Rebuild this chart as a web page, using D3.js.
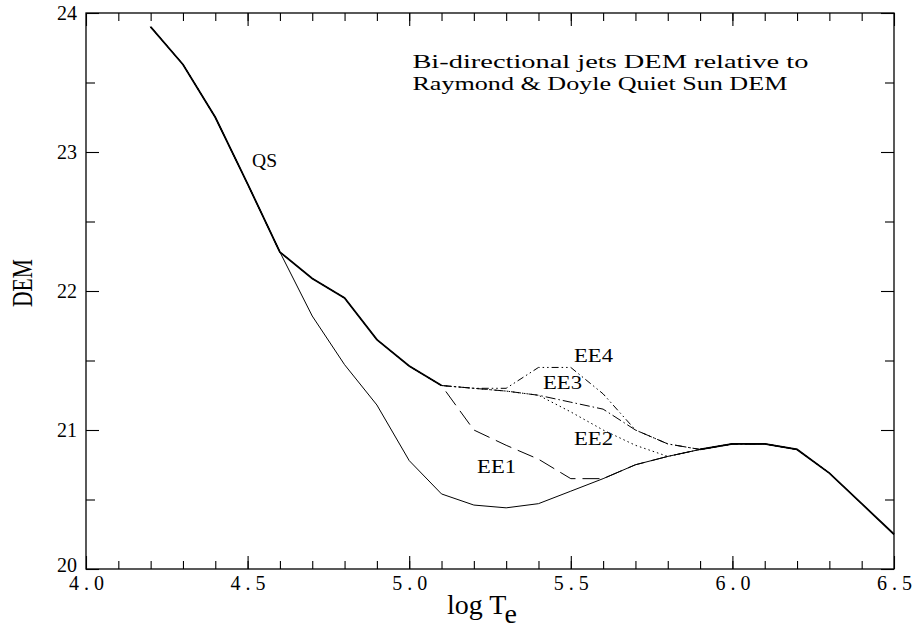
<!DOCTYPE html>
<html>
<head>
<meta charset="utf-8">
<script src="https://cdn.jsdelivr.net/npm/d3@7"></script>
<style>
body { margin: 0; background: #fff; }
svg { display: block; }
text { font-family: "Liberation Serif", "Times New Roman", serif; fill: #000; }
</style>
</head>
<body>
<div id="chart"></div>
<script>
// log T grid
var logT = [4.2, 4.3, 4.4, 4.5, 4.6, 4.7, 4.8, 4.9, 5.0, 5.1, 5.2, 5.3,
	5.4, 5.5, 5.6, 5.7, 5.8, 5.9, 6.0, 6.1, 6.2, 6.3, 6.4, 6.5];

// Raymond & Doyle quiet sun DEM
var qs = [23.9, 23.63, 23.25, 22.77, 22.28, 21.82, 21.47, 21.18, 20.78, 20.54, 20.46, 20.44,
	20.47, 20.56, 20.65, 20.75, 20.81, 20.86, 20.9, 20.9, 20.86, 20.69, 20.47, 20.25];

// jet DEMs
var ee1 = [23.9, 23.63, 23.25, 22.77, 22.28, 22.09, 21.95, 21.65, 21.46, 21.32, 21.0, 20.89,
	20.79, 20.65, 20.65, 20.75, 20.81, 20.86, 20.9, 20.9, 20.86, 20.69, 20.47, 20.25];
var ee2 = [23.9, 23.63, 23.25, 22.77, 22.28, 22.09, 21.95, 21.65, 21.46, 21.32, 21.3, 21.28,
	21.25, 21.13, 21.0, 20.89, 20.81, 20.86, 20.9, 20.9, 20.86, 20.69, 20.47, 20.25];
var ee3 = [23.9, 23.63, 23.25, 22.77, 22.28, 22.09, 21.95, 21.65, 21.46, 21.32, 21.3, 21.28,
	21.25, 21.2, 21.15, 21.0, 20.9, 20.86, 20.9, 20.9, 20.86, 20.69, 20.47, 20.25];
var ee4 = [23.9, 23.63, 23.25, 22.77, 22.28, 22.09, 21.95, 21.65, 21.46, 21.32, 21.3, 21.3,
	21.45, 21.45, 21.26, 21.0, 20.9, 20.86, 20.9, 20.9, 20.86, 20.69, 20.47, 20.25];

var xTicks = [4.0, 4.5, 5.0, 5.5, 6.0, 6.5];
var yTicks = [20, 21, 22, 23, 24];

var width = 914, height = 642;
var margin = { top: 13, right: 20, bottom: 73, left: 86 };

var svg = d3.select('#chart').append('svg')
	.attr('width', width)
	.attr('height', height);

var x = d3.scaleLinear().domain([4.0, 6.5]).range([margin.left, width - margin.right]);
var y = d3.scaleLinear().domain([20, 24]).range([height - margin.bottom, margin.top]);

// frame with inward ticks on all sides
function tickAxes(vals, major) {
	var len = major ? 13 : 8;
	svg.append('g')
		.attr('transform', 'translate(0,' + y(20) + ')')
		.call(d3.axisBottom(x).tickValues(vals).tickSize(-len).tickFormat('').tickSizeOuter(0));
	svg.append('g')
		.attr('transform', 'translate(0,' + y(24) + ')')
		.call(d3.axisTop(x).tickValues(vals).tickSize(-len).tickFormat('').tickSizeOuter(0));
}
var xMinor = d3.range(4.1, 6.45, 0.1);
tickAxes(xMinor, false);
tickAxes(xTicks, true);

function yAxes(vals, major) {
	var len = major ? 13 : 9;
	svg.append('g')
		.attr('transform', 'translate(' + x(4) + ',0)')
		.call(d3.axisLeft(y).tickValues(vals).tickSize(-len).tickFormat('').tickSizeOuter(0));
	svg.append('g')
		.attr('transform', 'translate(' + x(6.5) + ',0)')
		.call(d3.axisRight(y).tickValues(vals).tickSize(-len).tickFormat('').tickSizeOuter(0));
}
yAxes([20.5, 21.5, 22.5, 23.5], false);
yAxes(yTicks, true);

svg.selectAll('.domain').remove();
svg.selectAll('.tick line').attr('stroke', '#000').attr('stroke-width', 1.1);

svg.append('rect')
	.attr('x', x(4)).attr('y', y(24))
	.attr('width', x(6.5) - x(4)).attr('height', y(20) - y(24))
	.attr('fill', 'none').attr('stroke', '#000').attr('stroke-width', 1.3);

// tick labels
var xl = svg.append('g')
	.attr('transform', 'translate(0,' + y(20) + ')')
	.call(d3.axisBottom(x).tickValues(xTicks).tickSize(0).tickPadding(7).tickFormat(d3.format('.1f')));
xl.selectAll('text')
	.attr('font-size', null).attr('font-family', null)
	.style('font-size', '20px').attr('textLength', 35).attr('lengthAdjust', 'spacing');
var yl = svg.append('g')
	.attr('transform', 'translate(' + x(4) + ',0)')
	.call(d3.axisLeft(y).tickValues(yTicks).tickSize(0).tickPadding(9).tickFormat(d3.format('d')));
yl.selectAll('text')
	.style('font-size', '20px').attr('dy', '0.3em');
yl.select('.tick text').attr('dy', '0.1em');
xl.attr('font-size', null).attr('font-family', null);
yl.attr('font-size', null).attr('font-family', null);
xl.select('.domain').remove();
yl.select('.domain').remove();

// curves
var line = d3.line()
	.x(function(d) { return x(d[0]); })
	.y(function(d) { return y(d[1]); });

function pts(vals) {
	return logT.map(function(t, i) { return [t, vals[i]]; });
}

var styles = [
	{ v: ee1, dash: '17,7' },
	{ v: ee2, dash: '1.5,3' },
	{ v: ee3, dash: '10,3,1.5,3' },
	{ v: ee4, dash: '7,3,1.5,3,1.5,3' }
];
styles.forEach(function(s) {
	svg.append('path')
		.attr('d', line(pts(s.v)))
		.attr('fill', 'none')
		.attr('stroke', '#000')
		.attr('stroke-width', 1)
		.attr('stroke-dasharray', s.dash);
});

svg.append('path')
	.attr('d', line(pts(qs)))
	.attr('fill', 'none')
	.attr('stroke', '#000')
	.attr('stroke-width', 1);

// segments where all jet curves coincide are drawn solid
var same = logT.map(function(t, i) {
	return ee1[i] == ee2[i] && ee2[i] == ee3[i] && ee3[i] == ee4[i];
});
var shared = d3.line()
	.defined(function(d, i) { return same[i]; })
	.x(function(d) { return x(d[0]); })
	.y(function(d) { return y(d[1]); });
svg.append('path')
	.attr('d', shared(pts(ee1)))
	.attr('fill', 'none')
	.attr('stroke', '#000')
	.attr('stroke-width', 1.8);

// annotations
function label(t, d, txt, len, size) {
	svg.append('text')
		.attr('x', x(t)).attr('y', y(d))
		.attr('textLength', len).attr('lengthAdjust', 'spacingAndGlyphs')
		.style('font-size', size + 'px')
		.text(txt);
}
label(4.514, 22.89, 'QS', 25, 19);
label(5.51, 21.49, 'EE4', 39, 19);
label(5.414, 21.295, 'EE3', 39, 19);
label(5.51, 20.89, 'EE2', 39, 19);
label(5.21, 20.69, 'EE1', 39, 19);
label(5.01, 23.604, 'Bi-directional jets DEM relative to', 396, 19);
label(5.01, 23.446, 'Raymond & Doyle Quiet Sun DEM', 375, 19);

// axis titles
svg.append('text')
	.attr('transform', 'translate(32,' + 283 + ') rotate(-90)')
	.attr('text-anchor', 'middle')
	.attr('textLength', 48).attr('lengthAdjust', 'spacingAndGlyphs')
	.style('font-size', '29px')
	.text('DEM');

var xt = svg.append('text')
	.attr('x', 447).attr('y', 614)
	.style('font-size', '28px');
xt.append('tspan').text('log T');
xt.append('tspan').attr('dy', 9).text('e');
</script>
</body>
</html>
